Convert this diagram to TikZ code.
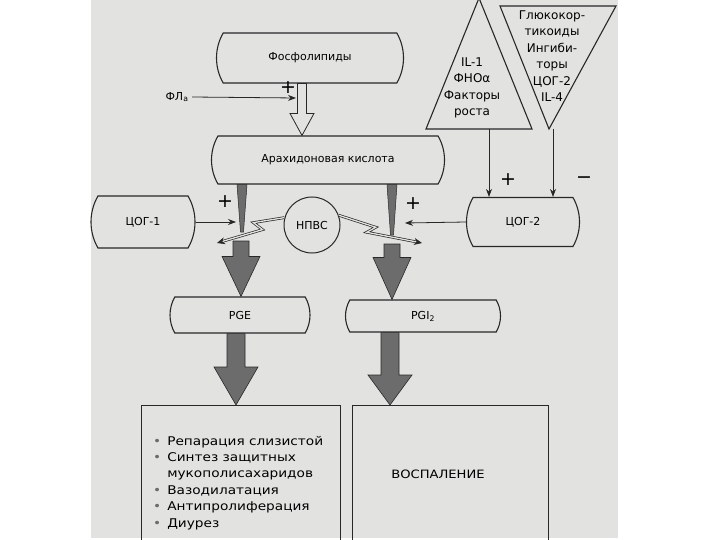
\documentclass[tikz,border=0pt]{standalone}
\usepackage{fontspec}
\setmainfont{DejaVu Sans}
\newfontfamily\widesans[FakeStretch=1.14]{DejaVu Sans}
\usetikzlibrary{calc,arrows.meta,shapes.misc,positioning}
\definecolor{scangray}{RGB}{226,226,224}
\definecolor{inkblack}{RGB}{40,40,40}
\definecolor{fatgray}{RGB}{108,108,108}
\tikzset{
    % Barrel-like boxes (slightly bulging sides)
    capsule/.style={
        rounded rectangle, rounded rectangle arc length=60,
        draw=inkblack, line width=1.1pt, inner sep=0pt,
        font=\fontsize{11}{13}\selectfont
    },
    % Open result boxes at the bottom
    resultbox/.style={
        rectangle, draw=inkblack, line width=1.2pt, inner sep=0pt
    },
    % Circle for the inhibitor
    blocker/.style={
        circle, draw=inkblack, line width=1pt, minimum size=56pt,
        inner sep=0pt, font=\fontsize{11}{13}\selectfont
    },
    % Text stacked inside the triangles
    tritext/.style={align=center, inner sep=0pt, font=\fontsize{12}{16.5}\selectfont},
    signmark/.style={inner sep=0pt, font=\fontsize{19}{19}\selectfont},
    listtext/.style={inner sep=0pt, font=\widesans\fontsize{12}{16.4}\selectfont},
}
\tikzset{
    % Thin connectors
    arc/.style={-{Stealth[length=8pt,width=6pt]}, line width=0.8pt, inkblack},
    bolt/.style={-{Stealth[length=8pt,width=7pt]}, line width=0.7pt, draw=inkblack,
        double=scangray, double distance=1.3pt},
    triline/.style={line width=1.1pt, inkblack, line join=miter},
    % Filled block arrows
    fatarrow/.style={fill=fatgray, draw=inkblack, line width=0.6pt},
    hollowarrow/.style={fill=scangray, draw=inkblack, line width=0.8pt},
    wedge/.style={fill=fatgray, draw=inkblack, line width=0.5pt},
}
% block arrow pointing down: [style]{from}{to}{shaft half}{head half}{head length}
\newcommand{\fatarrow}[6][]{%
  \filldraw[#1] let \p1=(#2), \p2=(#3) in
    (\x2-#4,\y1) -- (\x2-#4,\y2+#6) -- (\x2-#5,\y2+#6) -- (\x2,\y2)
    -- (\x2+#5,\y2+#6) -- (\x2+#4,\y2+#6) -- (\x2+#4,\y1) -- cycle;}
% narrow dark wedge hanging from a box: {top}{tip}{half width}
\newcommand{\wedgedown}[3]{%
  \filldraw[wedge] let \p1=(#1), \p2=(#2) in
    (\x2-#3,\y1) -- (\x2+#3,\y1) -- (\x2+1.5,\y2) -- (\x2-1.5,\y2) -- cycle;}

\begin{document}
\begin{tikzpicture}[x=1pt,y=-1pt]
  \useasboundingbox (0,0) rectangle (720,540);
  \fill[scangray] (91,0) rectangle (618,538);

  % main chain
  \node[capsule, minimum width=187pt, minimum height=50pt] (phos) at (310,58) {Фосфолипиды};
  \node[capsule, minimum width=233pt, minimum height=48pt] (arach) at (328,160) {Арахидоновая кислота};
  \node[capsule, minimum width=94pt, minimum height=52pt] (cox1) at (143,222) {ЦОГ-1};
  \node[capsule, minimum width=113pt, minimum height=49pt] (cox2) at (523,222) {ЦОГ-2};
  \node[blocker] (nsaid) at (312,225) {НПВС};
  \node[capsule, minimum width=140pt, minimum height=36pt] (pge) at (240,315) {PGE};
  \node[capsule, minimum width=155pt, minimum height=32pt] (pgi) at (423,316) {PGI\textsubscript{2}};
  \node[resultbox, anchor=north west, minimum width=199pt, minimum height=140pt] (lbox) at (141,405) {};
  \node[resultbox, anchor=north west, minimum width=196pt, minimum height=140pt] (rbox) at (352,405) {};

  % phospholipase
  \node[font=\fontsize{11}{13}\selectfont] (fla) at (177,97) {ФЛ\textsubscript{а}};
  \coordinate (hx) at (302,0);
  \coordinate (flaend) at (296,98);
  \fatarrow[hollowarrow]{phos.south}{arach.north -| hx}{4.5}{12}{22}
  \draw[arc] (fla.east) -- (flaend);
  \node[signmark] (plusfla) at (288,88) {+};

  % triangles with inducers and inhibitors
  \coordinate (upL) at (426,129);
  \coordinate (upT) at (479,-2);
  \coordinate (upR) at (532,129);
  \coordinate (dnL) at (500,6);
  \coordinate (dnR) at (616,6);
  \coordinate (dnT) at (549,129);
  \draw[triline] (upL) -- (upT) -- (upR) -- cycle;
  \draw[triline] (dnL) -- (dnR) -- (dnT) -- cycle;
  \node[tritext] (inducers) at (472,88) {IL-1\\ФНОα\\Факторы\\роста};
  \node[tritext] (inhibitors) at (552,56) {Глюкокор-\\тикоиды\\Ингиби-\\торы\\ЦОГ-2\\IL-4};
  \coordinate (upbase) at (489,129);
  \coordinate (dnbase) at (553,129);
  \draw[arc] (upbase) -- (upbase |- cox2.north);
  \draw[arc] (dnbase) -- (dnbase |- cox2.north);
  \node[signmark] (plusup) at (508,180) {+};
  \node[signmark] (minusdn) at (584,180) {−};

  % enzymes acting on the substrate
  \coordinate (lwtip) at (242,232);
  \coordinate (rwtip) at (392,235);
  \wedgedown{arach.south}{lwtip}{5}
  \wedgedown{arach.south}{rwtip}{5}
  \coordinate (cox1in) at (236,222);
  \coordinate (cox2in) at (405,223);
  \draw[arc] (cox1.east) -- (cox1in);
  \draw[arc] (cox2.west) -- (cox2in);
  \node[signmark] (plusl) at (225,202) {+};
  \node[signmark] (plusr) at (413,204) {+};

  % inhibition bolts
  \coordinate (boltL) at (217,243);
  \coordinate (boltR) at (422,243);
  \draw[bolt] (nsaid.165) -- ++(-31,5) -- ++(9,7) -- (boltL);
  \draw[bolt] (nsaid.20) -- ++(37,12) -- ++(-9,5) -- (boltR);

  % product arrows
  \coordinate (lstart) at (241,241);
  \coordinate (rstart) at (392,244);
  \coordinate (llow) at (236,0);
  \coordinate (rlow) at (390,0);
  \fatarrow[fatarrow]{lstart}{lstart |- pge.north}{8}{19}{40}
  \fatarrow[fatarrow]{rstart}{rstart |- pgi.north}{8}{19}{42}
  \fatarrow[fatarrow]{pge.south -| llow}{lbox.north -| llow}{9}{22}{38}
  \fatarrow[fatarrow]{pgi.south -| rlow}{rbox.north -| rlow}{9}{22}{30}

  % effects
  \node[listtext, anchor=base west] (effects) at (153,445) {%
    \begin{tabular}[t]{@{}l@{\hspace{6pt}}l@{}}
      \textcolor{fatgray}{\textbullet} & Репарация слизистой\\
      \textcolor{fatgray}{\textbullet} & Синтез защитных\\
       & мукополисахаридов\\
      \textcolor{fatgray}{\textbullet} & Вазодилатация\\
      \textcolor{fatgray}{\textbullet} & Антипролиферация\\
      \textcolor{fatgray}{\textbullet} & Диурез
    \end{tabular}};
  \node[font=\widesans\fontsize{11.5}{13}\selectfont] (inflam) at (438,474) {ВОСПАЛЕНИЕ};
\end{tikzpicture}
\end{document}
